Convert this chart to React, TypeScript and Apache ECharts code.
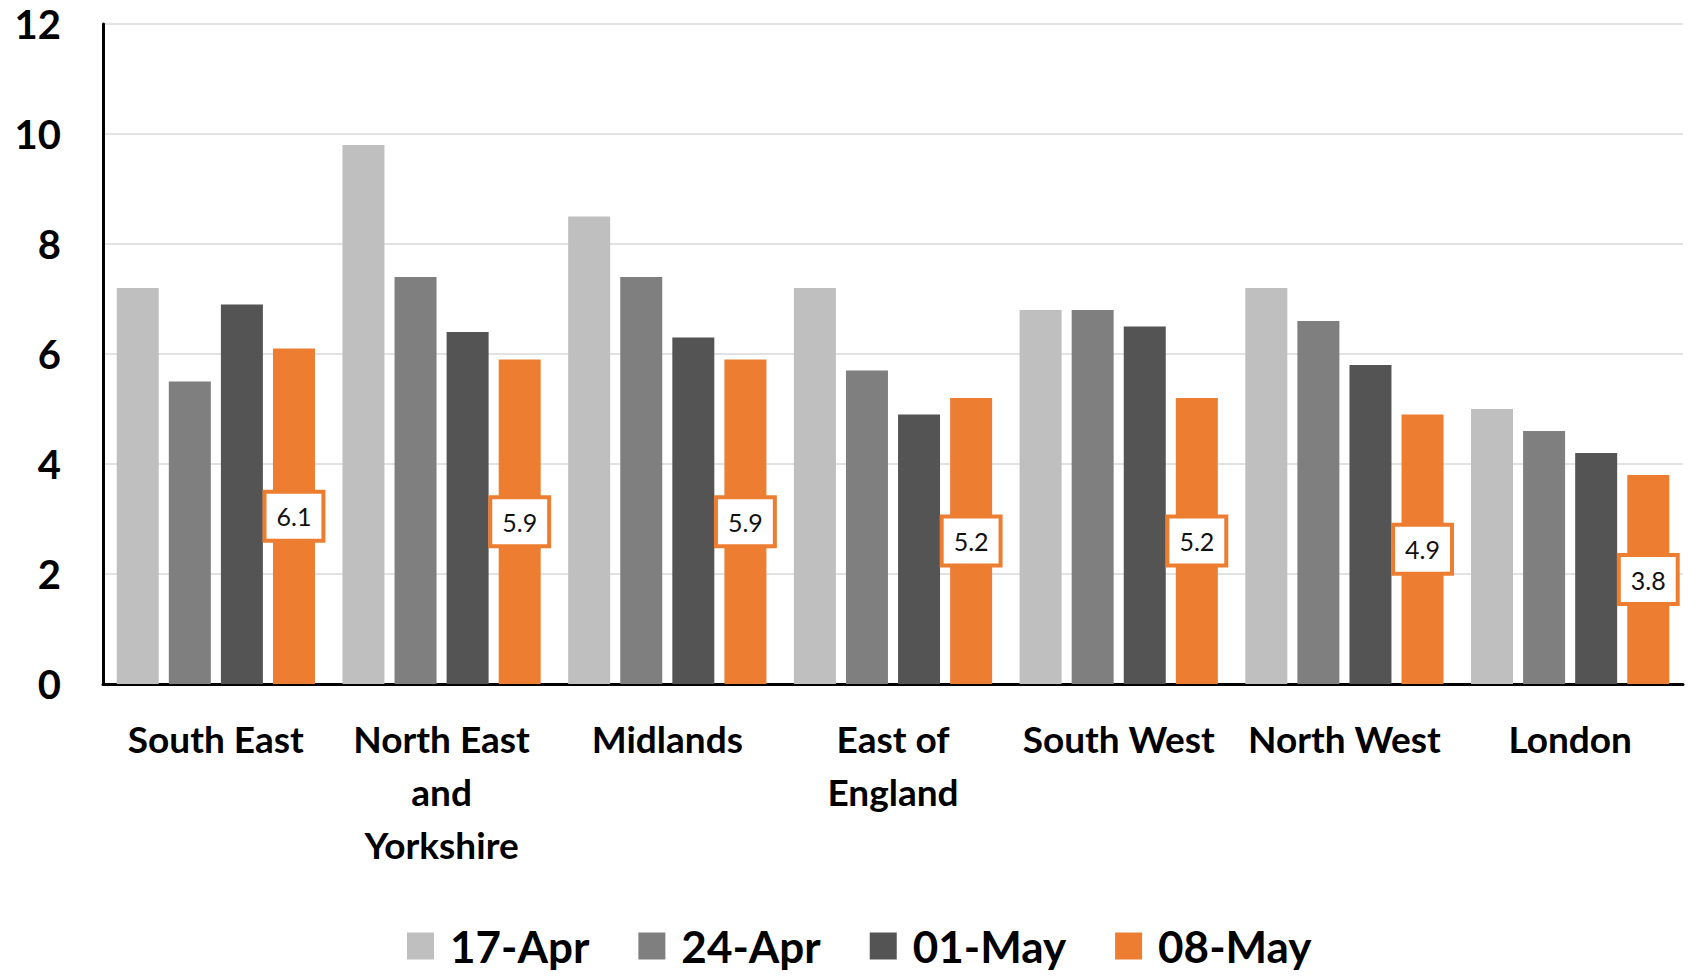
import React, { useEffect, useRef } from "react";
import * as echarts from "echarts";

const categories = [
  "South East",
  "North East\nand\nYorkshire",
  "Midlands",
  "East of\nEngland",
  "South West",
  "North West",
  "London",
];
const seriesNames = ["17-Apr", "24-Apr", "01-May", "08-May"];
const apr17 = [7.2, 9.8, 8.5, 7.2, 6.8, 7.2, 5.0];
const apr24 = [5.5, 7.4, 7.4, 5.7, 6.8, 6.6, 4.6];
const may01 = [6.9, 6.4, 6.3, 4.9, 6.5, 5.8, 4.2];
const may08 = [6.1, 5.9, 5.9, 5.2, 5.2, 4.9, 3.8];
const colors = ["#BFBFBF", "#7F7F7F", "#545454", "#ED7D31"];
const yTicks = [0, 2, 4, 6, 8, 10, 12];

const FONT = "Lato";

export default function App() {
  const ref = useRef<HTMLDivElement>(null);
  useEffect(() => {
    if (!ref.current) return;
    const chart = echarts.init(ref.current, null, { renderer: "svg" });
    const values = [apr17, apr24, may01, may08];
    const series = values.map((d, i) => ({
      name: seriesNames[i],
      type: "bar",
      data: d,
      barWidth: 42,
      barGap: "24%",
      itemStyle: { color: colors[i] },
      label:
        i === 3
          ? {
              show: true,
              position: "inside",
              formatter: (p: any) => Number(p.value).toFixed(1),
              fontFamily: FONT,
              fontSize: 25,
              color: "#111111",
              backgroundColor: "#ffffff",
              borderColor: "#ED7D31",
              borderWidth: 4,
              padding: [11, 10, 9, 10],
            }
          : { show: false },
    }));
    chart.setOption({
      animation: false,
      color: colors,
      grid: { left: 103, right: 9, top: 24, bottom: 293, containLabel: false },
      legend: {
        data: seriesNames,
        left: 402,
        top: 916,
        icon: "rect",
        itemWidth: 27,
        itemHeight: 27,
        itemGap: 49,
        textStyle: {
          fontFamily: FONT,
          fontSize: 44,
          lineHeight: 50,
          fontWeight: "bold",
          color: "#000",
          padding: [0, 0, 0, 11],
        },
      },
      xAxis: {
        type: "category",
        data: categories,
        axisLine: { lineStyle: { color: "#000", width: 3 } },
        axisTick: { show: false },
        axisLabel: {
          interval: 0,
          fontFamily: FONT,
          fontSize: 37,
          fontWeight: "bold",
          color: "#000",
          lineHeight: 53,
          margin: 28,
        },
      },
      yAxis: {
        type: "value",
        min: yTicks[0],
        max: yTicks[yTicks.length - 1],
        interval: 2,
        axisLine: { show: true, lineStyle: { color: "#000", width: 3 } },
        axisTick: { show: false },
        splitLine: { lineStyle: { color: "#D9D9D9", width: 1.5 } },
        axisLabel: {
          fontFamily: FONT,
          fontSize: 40,
          fontWeight: "bold",
          color: "#000",
          margin: 42,
        },
      },
      series,
    });
    return () => chart.dispose();
  }, []);
  return (
    <div
      ref={ref}
      style={{ position: "fixed", left: 0, top: 0, width: 1692, height: 977, background: "#fff" }}
    />
  );
}
